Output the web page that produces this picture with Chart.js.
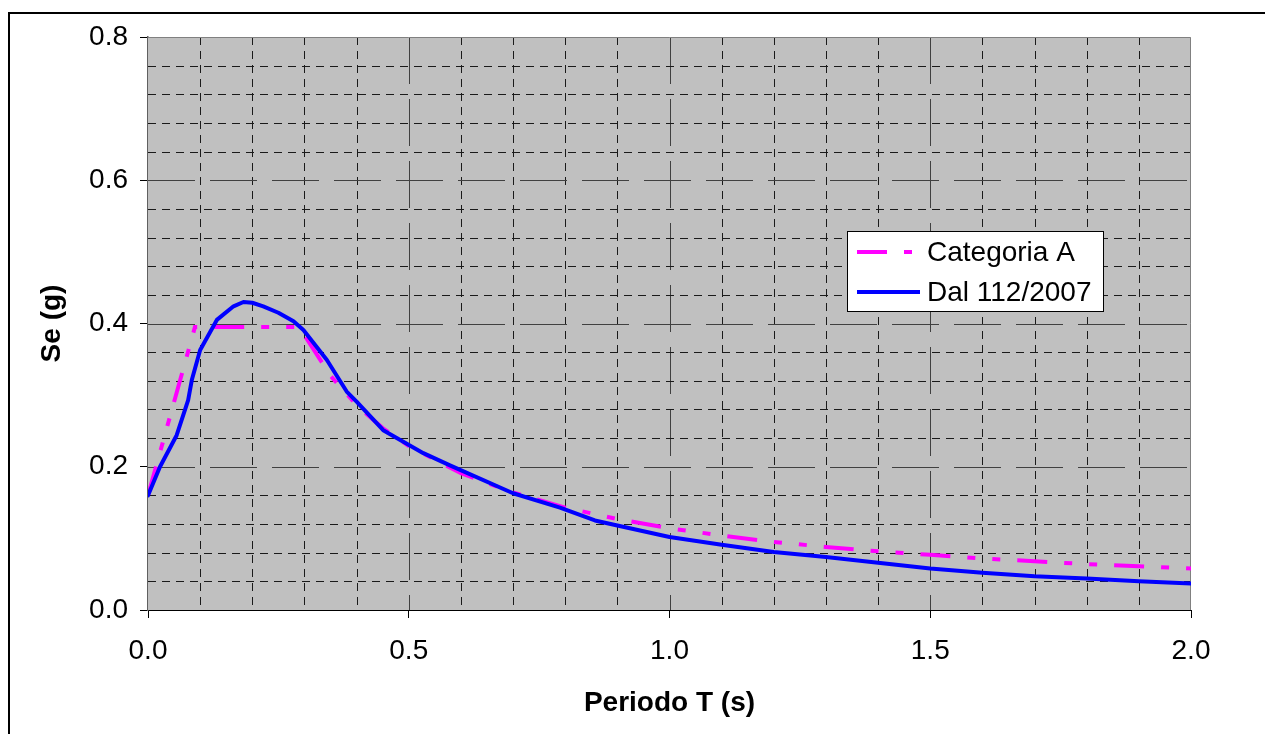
<!DOCTYPE html>
<html>
<head>
<meta charset="utf-8">
<script src="https://cdn.jsdelivr.net/npm/chart.js@4"></script>
<style>
  html, body { margin: 0; padding: 0; background: #fff; }
  #wrap { width: 1265px; height: 734px; }
</style>
</head>
<body>
<div id="wrap"><canvas id="myChart" width="1265" height="734"></canvas></div>
<script>
(function () {
    "use strict";

    // Categoria A (EC8-type spectrum)
    const catA_T  = [0, 0.09, 0.29, 0.35, 0.4, 0.45, 0.5, 0.6, 0.7, 0.8, 0.9, 1.0, 1.1, 1.2, 1.3, 1.4, 1.5, 1.6, 1.7, 1.8, 1.9, 2.0];
    const catA_Se = [0.16, 0.395, 0.395, 0.327, 0.286, 0.254, 0.229, 0.191, 0.164, 0.143, 0.127, 0.114, 0.104, 0.095, 0.088, 0.082, 0.077, 0.072, 0.068, 0.064, 0.061, 0.058];

    // Dal 112/2007
    const dal_T  = [0, 0.023, 0.055, 0.077, 0.084, 0.1, 0.132, 0.164, 0.183, 0.2, 0.221, 0.25, 0.279, 0.298, 0.343, 0.381, 0.4, 0.451, 0.528, 0.579, 0.7, 0.79, 0.857, 0.9, 1.0, 1.1, 1.2, 1.3, 1.4, 1.5, 1.6, 1.7, 1.8, 1.9, 2.0];
    const dal_Se = [0.16, 0.2, 0.244, 0.293, 0.321, 0.363, 0.405, 0.424, 0.430, 0.429, 0.424, 0.415, 0.403, 0.391, 0.349, 0.305, 0.291, 0.251, 0.219, 0.202, 0.163, 0.143, 0.125, 0.118, 0.102, 0.091, 0.081, 0.074, 0.066, 0.058, 0.052, 0.047, 0.044, 0.040, 0.037];

    const seriesNames = ['Categoria A', 'Dal 112/2007'];
    const xTitle = 'Periodo T (s)';
    const yTitle = 'Se (g)';

    const FONT = "'Liberation Sans', Arial, sans-serif";

    function toPoints(xs, ys) {
        return xs.map(function (x, i) { return { x: x, y: ys[i] }; });
    }

    // gray plot background + dashed Excel-style grid
    const plotBackground = {
        id: 'plotBackground',
        beforeDatasetsDraw: function (chart) {
            const ctx = chart.ctx;
            const a = chart.chartArea;
            const xs = chart.scales.x, ys = chart.scales.y;
            ctx.save();
            ctx.fillStyle = '#c0c0c0';
            ctx.fillRect(a.left, a.top, a.right - a.left, a.bottom - a.top);
            ctx.lineWidth = 1;

            // vertical lines every 0.1, major at 0.5
            for (let i = 1; i < 20; i++) {
                const px = Math.round(xs.getPixelForValue(i / 10)) + 0.5;
                const major = i % 5 === 0;
                ctx.strokeStyle = major ? '#404040' : '#1a1a1a';
                ctx.setLineDash(major ? [47, 15] : [8, 6]);
                ctx.beginPath();
                ctx.moveTo(px, a.top);
                ctx.lineTo(px, a.bottom);
                ctx.stroke();
            }
            // horizontal lines every 0.04, major at 0.2
            for (let j = 1; j < 20; j++) {
                const py = Math.round(ys.getPixelForValue(j * 0.04)) + 0.5;
                const major = j % 5 === 0;
                ctx.strokeStyle = major ? '#404040' : '#1a1a1a';
                ctx.setLineDash(major ? [47, 15] : [8, 6]);
                ctx.beginPath();
                ctx.moveTo(a.left, py);
                ctx.lineTo(a.right, py);
                ctx.stroke();
            }
            ctx.setLineDash([]);
            // plot area border (top / right)
            ctx.strokeStyle = '#808080';
            ctx.beginPath();
            ctx.moveTo(a.left, Math.round(a.top) + 0.5);
            ctx.lineTo(Math.round(a.right) - 0.5, Math.round(a.top) + 0.5);
            ctx.lineTo(Math.round(a.right) - 0.5, a.bottom);
            ctx.stroke();
            ctx.restore();
        }
    };

    // outer frame + boxed legend
    const frameAndLegend = {
        id: 'frameAndLegend',
        afterDraw: function (chart) {
            const ctx = chart.ctx;
            ctx.save();
            ctx.strokeStyle = '#000';
            ctx.lineWidth = 2;
            ctx.strokeRect(9, 13, 1300, 800);

            const box = { x: 847.5, y: 231.5, w: 256, h: 80 };
            ctx.fillStyle = '#fff';
            ctx.fillRect(box.x, box.y, box.w, box.h);
            ctx.lineWidth = 1;
            ctx.strokeStyle = '#000';
            ctx.strokeRect(box.x, box.y, box.w, box.h);

            chart.data.datasets.forEach(function (ds, i) {
                const cy = 252 + i * 40;
                ctx.strokeStyle = ds.borderColor;
                ctx.lineWidth = ds.borderWidth;
                ctx.lineCap = 'butt';
                ctx.setLineDash(ds.borderDash || []);
                ctx.beginPath();
                ctx.moveTo(857, cy);
                ctx.lineTo(i === 0 ? 914 : 920, cy);
                ctx.stroke();
                ctx.setLineDash([]);
                ctx.fillStyle = '#000';
                ctx.font = '28px ' + FONT;
                ctx.textBaseline = 'middle';
                ctx.textAlign = 'left';
                ctx.fillText(ds.label, 927, cy + 1);
            });
            ctx.restore();
        }
    };

    const ctx = document.getElementById('myChart').getContext('2d');
    new Chart(ctx, {
        type: 'scatter',
        data: {
            datasets: [
                {
                    label: seriesNames[0],
                    data: toPoints(catA_T, catA_Se),
                    showLine: true,
                    borderColor: '#ff00ff',
                    backgroundColor: '#ff00ff',
                    borderWidth: 4,
                    borderDash: [30, 17, 8, 17, 8, 17],
                    borderCapStyle: 'butt',
                    pointRadius: 0,
                    tension: 0,
                    order: 1
                },
                {
                    label: seriesNames[1],
                    data: toPoints(dal_T, dal_Se),
                    showLine: true,
                    borderColor: '#0000ff',
                    backgroundColor: '#0000ff',
                    borderWidth: 4,
                    borderJoinStyle: 'round',
                    borderCapStyle: 'round',
                    pointRadius: 0,
                    tension: 0,
                    order: 0
                }
            ]
        },
        options: {
            responsive: false,
            animation: false,
            events: [],
            layout: { padding: { top: 37, right: 74, left: 0, bottom: 0 } },
            plugins: {
                legend: { display: false },
                tooltip: { enabled: false }
            },
            scales: {
                x: {
                    type: 'linear',
                    min: 0,
                    max: 2,
                    afterFit: function (scale) { scale.height = 124; },
                    ticks: {
                        stepSize: 0.5,
                        padding: 16,
                        color: '#000',
                        font: { family: FONT, size: 28 },
                        callback: function (v) { return v.toFixed(1); }
                    },
                    grid: {
                        drawOnChartArea: false,
                        drawTicks: true,
                        tickLength: 8,
                        tickColor: '#000'
                    },
                    border: { color: '#000', width: 1 },
                    title: {
                        display: true,
                        text: xTitle,
                        color: '#000',
                        font: { family: FONT, size: 28, weight: 'bold' },
                        padding: { top: 0, bottom: 14 }
                    }
                },
                y: {
                    type: 'linear',
                    min: 0,
                    max: 0.8,
                    afterFit: function (scale) { scale.width = 148; },
                    ticks: {
                        stepSize: 0.2,
                        padding: 12,
                        color: '#000',
                        font: { family: FONT, size: 28 },
                        callback: function (v) { return v.toFixed(1); }
                    },
                    grid: {
                        drawOnChartArea: false,
                        drawTicks: true,
                        tickLength: 8,
                        tickColor: '#000'
                    },
                    border: { color: '#606060', width: 1.5 },
                    title: {
                        display: true,
                        text: yTitle,
                        color: '#000',
                        font: { family: FONT, size: 28, weight: 'bold' },
                        padding: { top: 35, bottom: 0 }
                    }
                }
            }
        },
        plugins: [plotBackground, frameAndLegend]
    });
})();
</script>
</body>
</html>
